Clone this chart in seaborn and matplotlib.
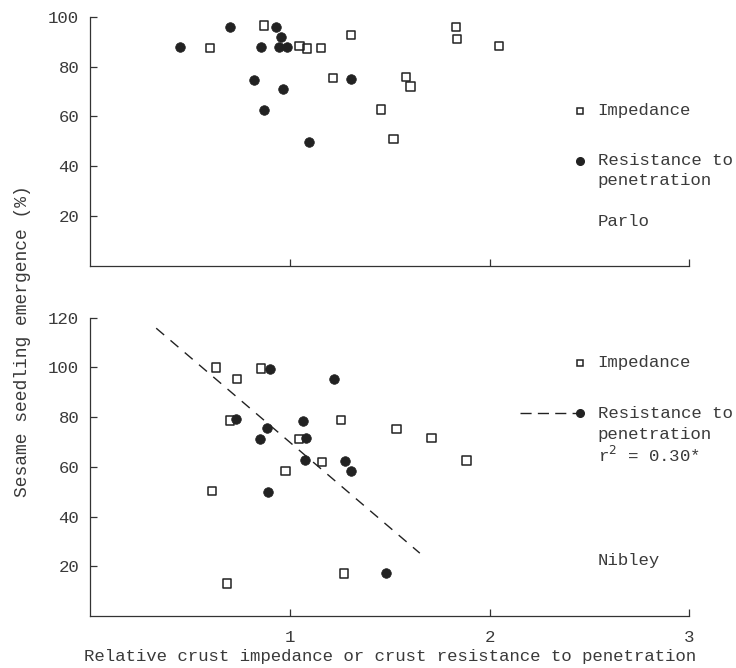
import matplotlib
matplotlib.use("Agg")
import matplotlib.pyplot as plt
import seaborn as sns
import pandas as pd
import numpy as np

sns.set_theme(style="ticks")
plt.rcParams['font.family'] = ['Liberation Mono', 'DejaVu Sans']

# ---------------- data ----------------
# Parlo
parlo_imp_x = [0.60, 0.87, 1.047, 1.085, 1.155, 1.306, 1.214, 1.58, 1.604, 1.457, 1.519, 1.830, 1.836, 2.047]
parlo_imp_y = [87.4, 96.5, 88.2, 87.3, 87.6, 92.8, 75.5, 75.8, 72.0, 62.8, 51.0, 95.9, 91.2, 88.4]
parlo_res_x = [0.449, 0.700, 0.928, 0.957, 0.855, 0.943, 0.983, 0.821, 0.967, 0.870, 1.307, 1.097]
parlo_res_y = [87.8, 96.1, 95.9, 91.8, 87.8, 87.8, 87.8, 74.8, 71.0, 62.5, 75.2, 49.9]

# Nibley
nibley_imp_x = [0.631, 0.733, 0.855, 0.700, 1.255, 1.534, 1.045, 1.160, 0.978, 0.611, 1.270, 0.686, 1.709, 1.883]
nibley_imp_y = [99.9, 95.3, 99.5, 78.6, 78.7, 75.2, 71.2, 62.0, 58.2, 50.3, 17.1, 13.1, 71.6, 62.5]
nibley_res_x = [0.901, 1.222, 0.728, 1.064, 0.885, 0.848, 1.082, 1.077, 1.274, 1.307, 0.888, 1.481]
nibley_res_y = [99.1, 95.1, 79.0, 78.4, 75.4, 71.0, 71.6, 62.8, 62.2, 58.2, 49.7, 17.1]

# regression for resistance to penetration (Nibley)
fit_range = [0.33, 1.65]
fit_intercept = 138.3
fit_slope = -68.5

x_ticks = [1, 2, 3]
parlo_y_ticks = [20, 40, 60, 80, 100]
nibley_y_ticks = [20, 40, 60, 80, 100, 120]

# ---------------- styling ----------------
INK = '#222222'
TXT = '#3a3a3a'
FS = 12.5

fig = plt.figure(figsize=(7.36, 6.68), dpi=100)
ax1 = fig.add_axes([0.1227, 0.6018, 0.814, 0.373])
ax2 = fig.add_axes([0.1227, 0.0778, 0.814, 0.4469])


def draw_points(ax, ix, iy, rx, ry):
    sns.scatterplot(x=ix, y=iy, marker='s', s=36, color=INK, facecolor='none',
                    edgecolor=INK, linewidth=1.1, ax=ax, zorder=3)
    sns.scatterplot(x=rx, y=ry, marker='o', s=48, color=INK, edgecolor=INK,
                    linewidth=0.5, ax=ax, zorder=4)


def style_axes(ax, yticks, ymax, xlabels):
    ax.set_xlim(0, 3)
    ax.set_ylim(0, ymax)
    ax.set_xticks(x_ticks)
    ax.set_yticks(yticks)
    for s in ['top', 'right']:
        ax.spines[s].set_visible(False)
    for s in ['left', 'bottom']:
        ax.spines[s].set_color('#333333')
        ax.spines[s].set_linewidth(0.9)
    ax.tick_params(axis='both', direction='in', length=5, width=0.9,
                   color='#333333', labelsize=FS, labelcolor=TXT)
    ax.tick_params(axis='y', pad=8)
    ax.tick_params(axis='x', pad=10)
    if xlabels:
        ax.set_xticklabels([str(t) for t in x_ticks])
    else:
        ax.set_xticklabels([])
    ax.set_xlabel('')
    ax.set_ylabel('')


# top panel: Parlo
draw_points(ax1, parlo_imp_x, parlo_imp_y, parlo_res_x, parlo_res_y)
style_axes(ax1, parlo_y_ticks, 100, False)

# bottom panel: Nibley
fit_x = np.array(fit_range)
fit_df = pd.DataFrame({'x': fit_x, 'y': fit_intercept + fit_slope * fit_x})
sns.lineplot(data=fit_df, x='x', y='y', ax=ax2, color=INK, linewidth=1.0,
             dashes=False, zorder=2)
ax2.lines[-1].set_dashes((7.5, 6))
draw_points(ax2, nibley_imp_x, nibley_imp_y, nibley_res_x, nibley_res_y)
style_axes(ax2, nibley_y_ticks, 120, True)

# ---------------- legends / annotations ----------------
tx = 0.847
mx = 0.817
# top
ax1.plot([mx], [0.624], marker='s', ms=5, mfc='none', mec=INK, mew=1.1,
         transform=ax1.transAxes, clip_on=False)
ax1.text(tx, 0.624, 'Impedance', transform=ax1.transAxes, va='center', ha='left',
         fontsize=FS, color=TXT)
ax1.plot([mx], [0.423], marker='o', ms=5.5, color=INK,
         transform=ax1.transAxes, clip_on=False)
ax1.text(tx, 0.423, 'Resistance to', transform=ax1.transAxes, va='center', ha='left',
         fontsize=FS, color=TXT)
ax1.text(tx, 0.345, 'penetration', transform=ax1.transAxes, va='center', ha='left',
         fontsize=FS, color=TXT)
ax1.text(tx, 0.178, 'Parlo', transform=ax1.transAxes, va='center', ha='left',
         fontsize=FS, color=TXT)

# bottom
ax2.plot([mx], [0.848], marker='s', ms=5, mfc='none', mec=INK, mew=1.1,
         transform=ax2.transAxes, clip_on=False)
ax2.text(tx, 0.848, 'Impedance', transform=ax2.transAxes, va='center', ha='left',
         fontsize=FS, color=TXT)
leg_line, = ax2.plot([0.717, mx], [0.679, 0.679], color=INK, linewidth=1.0,
                     transform=ax2.transAxes, clip_on=False)
leg_line.set_dashes((8, 4.5))
ax2.plot([mx], [0.679], marker='o', ms=5.5, color=INK,
         transform=ax2.transAxes, clip_on=False)
ax2.text(tx, 0.679, 'Resistance to', transform=ax2.transAxes, va='center', ha='left',
         fontsize=FS, color=TXT)
ax2.text(tx, 0.609, 'penetration', transform=ax2.transAxes, va='center', ha='left',
         fontsize=FS, color=TXT)
ax2.text(tx, 0.539, r'r$^{2}$ = 0.30*', transform=ax2.transAxes, va='center', ha='left',
         fontsize=FS, color=TXT)
ax2.text(tx, 0.187, 'Nibley', transform=ax2.transAxes, va='center', ha='left',
         fontsize=FS, color=TXT)

# axis labels
fig.text(0.03, 0.49, 'Sesame seedling emergence (%)', rotation=90, ha='center',
         va='center', fontsize=13, color=TXT)
fig.text(0.53, 0.017, 'Relative crust impedance or crust resistance to penetration',
         ha='center', va='center', fontsize=FS, color=TXT)

fig.savefig('out.png', dpi=100)
